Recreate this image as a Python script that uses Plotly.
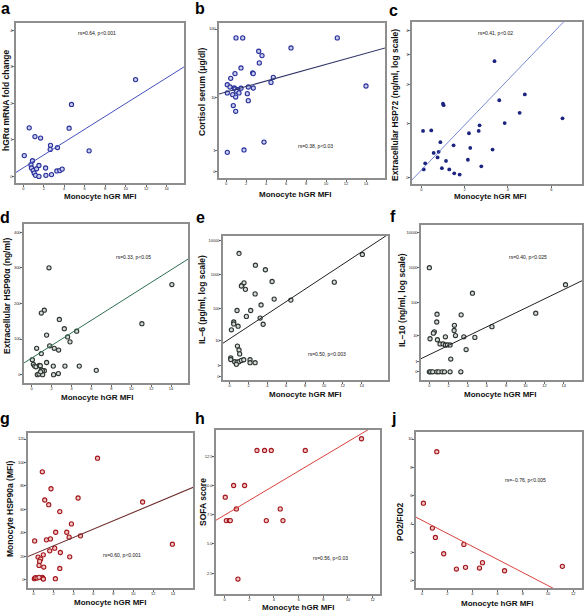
import numpy as np
import plotly.graph_objects as go

W, H = 584, 612

# ---------------- data ----------------
# a: hGRalpha mRNA fold change
a_x = [0.1, 0.58, 0.75, 0.9, 0.8, 0.97, 1.07, 1.2, 1.3, 1.53, 1.53, 1.14, 1.69, 2.18, 2.21,
       2.66, 2.63, 2.76, 3.34, 3.28, 3.57, 3.8, 4.48, 4.71, 6.43, 10.97]
a_y = [0.57, 1.33, 0.32, 0.43, 0.23, 0.16, 0.09, 0.03, 0.21, 0.30, 0.0, 1.09, 1.05, 0.23, 0.03,
       0.85, 0.74, 0.05, 0.79, 0.15, 0.16, 0.2, 1.32, 1.97, 0.7, 2.65]
# b: cortisol serum (ug/dl)
b_x = [1.0, 1.67, 11.13, 6.5, 3.27, 3.6, 3.33, 1.5, 0.9, 2.67, 2.73, 0.47, 4.73, 4.5, 0.13, 0.4,
       14.0, 0.83, 0.9, 2.23, 2.73, 1.5, 1.17, 1.07, 0.13, 0.67, 2.13, 1.3, 0.97, 2.23, 0.73,
       0.97, 3.8, 0.13, 1.8]
b_y = [75, 75, 75, 53.9, 48.3, 41.8, 32.8, 27.7, 22.9, 23.4, 22.9, 19.5, 20.2, 17.0, 15.7, 14.5,
       15.0, 14.0, 13.5, 14.5, 14.0, 13.9, 13.2, 12.5, 11.8, 11.1, 11.5, 11.8, 10.2, 8.97, 7.5,
       6.06, 1.61, 0.87, 1.02]
# c: extracellular HSP72
c_x = [3.38, 1.0, 1.03, 3.6, 4.78, 4.54, 6.52, 3.85, 2.69, 2.65, 2.2, 0.08, 0.46, 0.88, 1.49,
       2.26, 0.8, 0.57, 0.75, 3.29, 2.15, 1.14, 0.18, 2.77, 0.95, 1.29, 1.52, 1.77, 0.11]
c_y = [2.77, 1.47, 1.43, 1.56, 1.72, 1.24, 1.11, 1.0, 0.95, 0.83, 0.78, 0.83, 0.84, 0.60, 0.54,
       0.49, 0.42, 0.40, 0.32, 0.46, 0.28, 0.26, 0.22, 0.17, 0.14, 0.12, 0.06, 0.04, 0.12]
# d: extracellular HSP90alpha (ng/ml)
d_x = [1.74, 14.08, 1.27, 0.97, 2.78, 1.5, 3.28, 3.61, 4.52, 3.85, 1.81, 2.27, 2.71, 0.5, 0.97,
       0.07, 0.17, 0.3, 0.43, 0.77, 0.87, 1.5, 0.97, 1.27, 1.07, 0.57, 0.74, 1.1, 2.17, 3.34,
       4.78, 2.68, 2.2, 6.49, 11.07, 0.9]
d_y = [300, 253, 181, 173, 155, 111, 129, 106, 122, 92, 81, 74, 69, 74, 59,
       42, 29, 24, 22, 26, 25, 34, 13, 11, 11, 0, 2, 0, 24, 24,
       24, 3, 0, 12, 143, 8]
# e: IL-6 (pg/ml)
e_x = [0.99, 2.73, 3.79, 14.08, 1.31, 1.52, 1.24, 1.67, 4.5, 11.1, 2.7, 4.72, 6.49, 3.33, 0.78,
       2.23, 1.77, 3.23, 0.43, 0.43, 0.89, 3.55, 0.18, 0.82, 0.99, 1.06, 0.11, 0.11, 0.53, 0.78,
       0.99, 1.24, 1.49, 2.16, 2.16, 2.7, 0.71]
e_y = [4121, 1860, 1363, 3860, 481, 561, 450, 360, 614, 587, 264, 185, 173, 124, 85,
       85, 56.5, 50.5, 38.4, 33.5, 28.6, 32.8, 22.2, 6.67, 4.88, 3.51, 2.45, 2.09, 1.65, 1.59,
       1.65, 1.9, 2.03, 2.03, 1.48, 1.48, 1.22]
# f: IL-10 (ng/ml)
f_x = [0.0, 4.49, 14.18, 3.31, 0.8, 11.08, 0.77, 2.61, 2.58, 0.52, 0.42, 6.52, 2.72, 1.67, 3.59,
       4.74, 0.07, 0.84, 1.11, 1.43, 1.67, 1.88, 2.16, 3.83, 2.23,
       0.0, 0.14, 0.35, 0.77, 0.98, 1.32, 1.57, 2.16, 3.28]
f_y = [999, 183, 322, 42.8, 44.7, 47.9, 26.2, 20.9, 14.5, 13.2, 12.0, 19.0, 10.1, 9.2, 9.2,
       8.8, 7.97, 7.4, 5.34, 5.34, 4.94, 4.94, 4.94, 3.38, 1.33,
       0, 0, 0, 0, 0, 0, 0, 0, 0]
# g: monocyte HSP90a (MFI)
g_x = [6.41, 0.87, 1.74, 4.46, 1.11, 1.51, 10.94, 2.62, 3.79, 0.1, 2.21, 3.32, 1.28, 1.68, 3.56,
       4.7, 13.93, 2.11, 1.61, 2.68, 0.97, 3.62, 0.44, 0.7, 0.6, 1.01, 0.07, 0.17, 0.34, 0.87,
       0.94, 0.97, 0.54, 2.62, 2.18, 0.54]
g_y = [103.7, 92.1, 77.6, 69.7, 68.0, 64.0, 66.3, 58.1, 47.6, 33.1, 40.5, 40.5, 34.0, 34.8, 36.3,
       37.4, 30.3, 26.9, 24.6, 23.2, 21.2, 19.5, 19.3, 17.6, 15.6, 10.8, 0.85, 1.7, 1.4, 2.0,
       1.1, 0.6, 2.0, 9.6, 0.85, 12.2]
# h: SOFA score
h_x = [0.05, 0.14, 0.38, 0.46, 0.95, 0.73, 1.62, 2.62, 3.24, 3.78, 6.54, 11.1, 3.38, 4.51, 4.73, 1.08]
h_y = [9, 7, 7, 7, 8, 10, 10, 13, 13, 13, 13, 14, 7, 8, 7, 2]
# j: PO2/FIO2
j_x = [1.17, 0.11, 0.82, 1.06, 3.32, 1.72, 2.73, 3.45, 4.56, 4.8, 6.55, 11.14]
j_y = [9.11, 5.47, 3.71, 3.05, 2.56, 1.9, 0.82, 0.94, 0.89, 1.27, 0.70, 1.01]

# fitted regression lines (intercept, slope) in axis display units
fit_a = (0.235, 0.176)
fit_b = (1.119, 0.039)
fit_c = (0.324, 0.0734)
fit_d = (46.5, 17.7)
fit_e = (1.10, 0.183)
fit_f = (0.494, 0.134)
fit_g = (21.8, 3.56)
fit_h = (7.47, 0.628)
fit_j = (4.26, -0.461)

stats = ["rs=0.64, p<0.001", "rs=0.38, p<0.03", "rs=0.41, p<0.02",
         "rs=0.33, p<0.05", "rs=0.50, p<0.003", "rs=0.40, p<0.025",
         "rs=0.60, p<0.001", "rs=0.56, p<0.03", "rs=\u22120.76, p<0.005"]
letters = ["a", "b", "c", "d", "e", "f", "g", "h", "j"]
ytitles = ["hGR\u03b1 mRNA fold change", "Cortisol serum (\u03bcg/dl)",
           "Extracellular HSP72 (ng/ml, log scale)", "Extracellular HSP90\u03b1 (ng/ml)",
           "IL\u20136 (pg/ml, log scale)", "IL\u201310 (ng/ml, log scale)",
           "Monocyte HSP90a (MFI)", "SOFA score", "PO2/FIO2"]
xtitle = "Monocyte hGR MFI"

x_ticks_wide = [0, 2, 4, 6, 8, 10, 12, 14]
a_yticks = [0, 1, 2, 3, 4]
b_yticks = [0, 1, 10, 100]
c_xticks = [0, 2, 4, 6]
c_yticks = [0, 1, 2, 3, 4]
d_yticks = [0, 100, 200, 300, 400]
ef_yticks = [0, 1, 10, 100, 1000, 10000]
g_yticks = [0, 20, 40, 60, 80, 100, 120]
h_xticks = [0, 2, 4, 6, 8, 10, 12]
h_yticks = [2.5, 5.0, 7.5, 10.0, 12.5]
j_yticks = [0, 2, 4, 6, 8, 10]

def lin(v):
    return np.asarray(v, dtype=float)

def log1(v):
    return np.log10(np.asarray(v, dtype=float) + 1)

def log2(v):
    return np.log10(np.asarray(v, dtype=float) + 2)

BLUE = dict(ring="#28309a", fill="#c9cdef")
GREY = dict(ring="#2c3530", fill="#d6dad6")
RED = dict(ring="#a3161b", fill="#f2c6c6")

# layout geometry (pixels) and styling
panels = [
    dict(x=a_x, y=a_y, tf=lin, fit=fit_a, box=(16, 23, 184, 183), xr=(-0.71, 15.7), yr=(-0.18, 4.2),
         xt=x_ticks_wide, yt=a_yticks, yfmt=None, mk=BLUE, lc="#4352bd", lw=1.0, filled=False,
         stat=(97, 33), ytl=(6, 100), xtl=(100, 197), let=(5, 9)),
    dict(x=b_x, y=b_y, tf=log1, fit=fit_b, box=(219, 23, 385, 178), xr=(-0.7, 15.9), yr=(-0.089, 2.09),
         xt=x_ticks_wide, yt=b_yticks, yfmt=None, mk=BLUE, lc="#2e3566", lw=1.1, filled=False,
         stat=(315, 146), ytl=(202, 92), xtl=(295, 194), let=(200, 9)),
    dict(x=c_x, y=c_y, tf=log2, fit=fit_c, box=(412, 22, 582, 184), xr=(-0.43, 7.42), yr=(0.279, 0.806),
         xt=c_xticks, yt=c_yticks, yfmt=None, mk=dict(ring="#1b2380", fill="#1b2380"), lc="#5868cc", lw=0.8,
         filled=True, stat=(495, 33), ytl=(395, 105), xtl=(490, 197), let=(393, 10)),
    dict(x=d_x, y=d_y, tf=lin, fit=fit_d, box=(24, 224, 188, 383), xr=(-0.77, 15.7), yr=(-23.5, 423),
         xt=x_ticks_wide, yt=d_yticks, yfmt=None, mk=GREY, lc="#2f7050", lw=1.0, filled=False,
         stat=(133, 257), ytl=(7, 296), xtl=(97, 397), let=(5, 217)),
    dict(x=e_x, y=e_y, tf=log1, fit=fit_e, box=(223, 236, 388, 380), xr=(-0.71, 16.8), yr=(-0.115, 4.13),
         xt=x_ticks_wide, yt=ef_yticks, yfmt=None, mk=GREY, lc="#222222", lw=1.0, filled=False,
         stat=(327, 354), ytl=(202, 300), xtl=(305, 394), let=(200, 217)),
    dict(x=f_x, y=f_y, tf=log1, fit=fit_f, box=(421, 225, 582, 380), xr=(-0.87, 15.9), yr=(-0.236, 4.23),
         xt=x_ticks_wide, yt=ef_yticks, yfmt=None, mk=GREY, lc="#222222", lw=1.0, filled=False,
         stat=(528, 257), ytl=(402, 300), xtl=(500, 394), let=(393, 216)),
    dict(x=g_x, y=g_y, tf=lin, fit=fit_g, box=(28, 433, 193, 588), xr=(-0.57, 16.0), yr=(-7.1, 125.2),
         xt=x_ticks_wide, yt=g_yticks, yfmt=None, mk=RED, lc="#6e2b2b", lw=1.1, filled=False,
         stat=(122, 555), ytl=(10, 509), xtl=(110, 602), let=(5, 418)),
    dict(x=h_x, y=h_y, tf=lin, fit=fit_h, box=(216, 430, 380, 594), xr=(-0.7, 12.6), yr=(0.72, 14.75),
         xt=h_xticks, yt=h_yticks, yfmt=".1f", mk=RED, lc="#d8433f", lw=1.0, filled=False,
         stat=(330, 558), ytl=(203, 502), xtl=(298, 607), let=(200, 418)),
    dict(x=j_x, y=j_y, tf=lin, fit=fit_j, box=(416, 432, 582, 588), xr=(-0.48, 12.7), yr=(-0.52, 10.5),
         xt=h_xticks, yt=j_yticks, yfmt=None, mk=RED, lc="#d8433f", lw=1.0, filled=False,
         stat=(525, 480), ytl=(400, 522), xtl=(497, 603), let=(393, 418)),
]

TITLE_FONT = "Liberation Sans Narrow, Arial Narrow, Liberation Sans, Arial, sans-serif"
BASE_FONT = "Liberation Sans, Arial, sans-serif"

fig = go.Figure()
annotations = []
layout_axes = {}

for i, p in enumerate(panels):
    n = i + 1
    xa = "x" if n == 1 else f"x{n}"
    ya = "y" if n == 1 else f"y{n}"
    L, T, R, B = p["box"]
    tf = p["tf"]
    mk = p["mk"]
    if p["filled"]:
        marker = dict(size=3.8, color=mk["fill"], line=dict(width=0))
    else:
        marker = dict(size=4.2, color=mk["fill"], line=dict(color=mk["ring"], width=1.1))
    fig.add_trace(go.Scatter(x=p["x"], y=tf(p["y"]), mode="markers", marker=marker,
                             xaxis=xa, yaxis=ya, showlegend=False, hoverinfo="skip"))
    b0, b1 = p["fit"]
    xs = np.array([p["xr"][0] - 1, p["xr"][1] + 1])
    fig.add_trace(go.Scatter(x=xs, y=b0 + b1 * xs, mode="lines",
                             line=dict(color=p["lc"], width=p["lw"]),
                             xaxis=xa, yaxis=ya, showlegend=False, hoverinfo="skip"))
    common = dict(showline=True, linecolor="#8e8e8e", linewidth=1.6, mirror=True,
                  ticks="outside", ticklen=2, tickwidth=0.8, tickcolor="#444444",
                  ticklabelstandoff=-1,
                  tickfont=dict(size=4, color="#222222", family=BASE_FONT),
                  showgrid=False, zeroline=False, fixedrange=True)
    xkey = "xaxis" if n == 1 else f"xaxis{n}"
    ykey = "yaxis" if n == 1 else f"yaxis{n}"
    layout_axes[xkey] = dict(common, domain=[L / W, R / W], range=list(p["xr"]), anchor=ya,
                             tickmode="array", tickvals=p["xt"], ticktext=[str(v) for v in p["xt"]])
    if p["yfmt"]:
        ytext = [format(v, p["yfmt"]) for v in p["yt"]]
    else:
        ytext = [str(v) for v in p["yt"]]
    layout_axes[ykey] = dict(common, domain=[1 - B / H, 1 - T / H], range=list(p["yr"]), anchor=xa,
                             tickmode="array", tickvals=list(tf(p["yt"])), ticktext=ytext)
    # texts
    sx, sy = p["stat"]
    annotations.append(dict(x=sx / W, y=1 - sy / H, xref="paper", yref="paper", text=stats[i],
                            showarrow=False, font=dict(size=5, color="#111111", family=BASE_FONT),
                            xanchor="center", yanchor="middle"))
    tx, ty = p["ytl"]
    annotations.append(dict(x=tx / W, y=1 - ty / H, xref="paper", yref="paper",
                            text="<b>" + ytitles[i] + "</b>", textangle=-90, showarrow=False,
                            font=dict(size=8.5, color="#111111", family=BASE_FONT),
                            xanchor="center", yanchor="middle"))
    tx, ty = p["xtl"]
    annotations.append(dict(x=tx / W, y=1 - ty / H, xref="paper", yref="paper",
                            text="<b>" + xtitle + "</b>", showarrow=False,
                            font=dict(size=8, color="#111111", family=TITLE_FONT),
                            xanchor="center", yanchor="middle"))
    lx, ly = p["let"]
    annotations.append(dict(x=lx / W, y=1 - ly / H, xref="paper", yref="paper",
                            text="<b>" + letters[i] + "</b>", showarrow=False,
                            font=dict(size=16, color="#000000", family=BASE_FONT),
                            xanchor="center", yanchor="middle"))

fig.update_layout(width=W, height=H, margin=dict(l=0, r=0, t=0, b=0),
                  paper_bgcolor="white", plot_bgcolor="white",
                  annotations=annotations, **layout_axes)
fig.write_html("out.html", config={"displayModeBar": False, "staticPlot": True},
               post_script="document.body.style.margin='0';")
